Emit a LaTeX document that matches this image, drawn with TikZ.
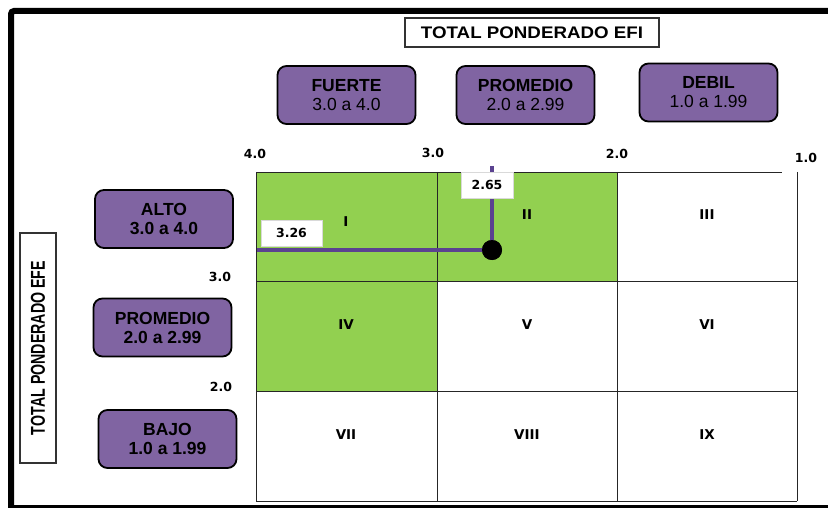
\documentclass[tikz,border=0pt]{standalone}
\usepackage{fontspec}
\setmainfont{Liberation Sans}
\newfontfamily\numfont{DejaVu Sans}
\definecolor{boxpurple}{HTML}{8064A2}
\definecolor{cellgreen}{HTML}{92D050}
\definecolor{markline}{HTML}{5B4290}
\begin{document}
\begin{tikzpicture}[x=1pt,y=-1pt,
  rangebox/.style={draw=black, line width=1.8pt, fill=boxpurple, rounded corners=9pt,
    minimum width=138pt, minimum height=58pt, inner sep=0pt, align=center,
    font=\fontsize{17.5}{19}\selectfont},
  axisbox/.style={draw=black!80, line width=1.1pt, fill=white, inner sep=0pt},
  gridline/.style={draw=black!85, line width=0.9pt},
  tick/.style={font=\numfont\bfseries\fontsize{12.5}{14}\selectfont, inner sep=0pt},
  zone/.style={font=\numfont\bfseries\fontsize{13.5}{15}\selectfont, inner sep=0pt},
  valuebox/.style={fill=white, draw=black!15, line width=0.6pt, inner sep=0pt,
    minimum width=58pt, minimum height=26pt,
    font=\numfont\bfseries\fontsize{12.5}{14}\selectfont},
  frame/.style={draw=black, line width=6pt}]
\useasboundingbox (0,0) rectangle (828,508);

% outer frame (open on the right)
\draw[frame, rounded corners=3pt] (840,11) -- (11,11) -- (11,520);
\draw[black, line width=5pt] (8,507) -- (840,507);

% axis titles
\node[axisbox, minimum width=254pt, minimum height=29pt] (efi) at (532,32.5)
  {\resizebox{222pt}{11.7pt}{\bfseries TOTAL PONDERADO EFI}};
\node[axisbox, minimum width=36pt, minimum height=230pt] (efe) at (38,348) {};
\node[rotate=90, inner sep=0pt] (efetext) at (efe.center)
  {\resizebox{174pt}{14pt}{\bfseries TOTAL PONDERADO EFE}};

% column headings (EFI ranges)
\node[rangebox] (fuerte) at (346.5,95) {\textbf{FUERTE}\\3.0 a 4.0};
\node[rangebox] (prom1) at (525.5,95) {\textbf{PROMEDIO}\\2.0 a 2.99};
\node[rangebox] (debil) at (708.5,92.5) {\textbf{DEBIL}\\1.0 a 1.99};

% row headings (EFE ranges)
\node[rangebox, font=\bfseries\fontsize{17.5}{19}\selectfont] (alto) at (164,219) {ALTO\\3.0 a 4.0};
\node[rangebox, font=\bfseries\fontsize{17.5}{19}\selectfont] (prom2) at (162.5,327.5) {PROMEDIO\\2.0 a 2.99};
\node[rangebox, font=\bfseries\fontsize{17.5}{19}\selectfont] (bajo) at (167.5,439) {BAJO\\1.0 a 1.99};

% highlighted cells
\fill[cellgreen] (256,172) rectangle (617,281);
\fill[cellgreen] (256,281) rectangle (437,391);

% grid
\draw[gridline] (256,172) -- (782,172);
\draw[gridline] (256,281) -- (797,281);
\draw[gridline] (256,391) -- (797,391);
\draw[gridline] (256,501) -- (797,501);
\draw[gridline] (256,172) -- (256,501);
\draw[gridline] (437,172) -- (437,501);
\draw[gridline] (617,172) -- (617,501);
\draw[gridline] (797,172) -- (797,501);

% scale values
\node[tick] (t40) at (255,154) {4.0};
\node[tick] (t30) at (433,153) {3.0};
\node[tick] (t20) at (617,154) {2.0};
\node[tick] (t10) at (806,158) {1.0};
\node[tick] (l30) at (220,277) {3.0};
\node[tick] (l20) at (221,387) {2.0};

% zone numbers
\node[zone] (z1) at (346,222) {I};
\node[zone] (z2) at (527,215) {II};
\node[zone] (z3) at (707,215) {III};
\node[zone] (z4) at (346,325) {IV};
\node[zone] (z5) at (527,325) {V};
\node[zone] (z6) at (707,325) {VI};
\node[zone] (z7) at (346,435) {VII};
\node[zone] (z8) at (527,435) {VIII};
\node[zone] (z9) at (707,435) {IX};

% company position
\coordinate (left) at (257,250);
\coordinate (top) at (492,166);
\node[circle, fill=black, minimum size=20pt, inner sep=0pt] (pos) at (492,250) {};
\draw[markline, line width=4pt] (left) -- (pos.center);
\draw[markline, line width=4pt] (top) -- (pos.center);
\node[circle, fill=black, minimum size=20pt, inner sep=0pt] at (pos.center) {};
\node[valuebox, minimum width=61pt] (v326) at (291.5,233) {3.26};
\node[valuebox, minimum width=52pt] (v265) at (487,185) {2.65};
\end{tikzpicture}
\end{document}
